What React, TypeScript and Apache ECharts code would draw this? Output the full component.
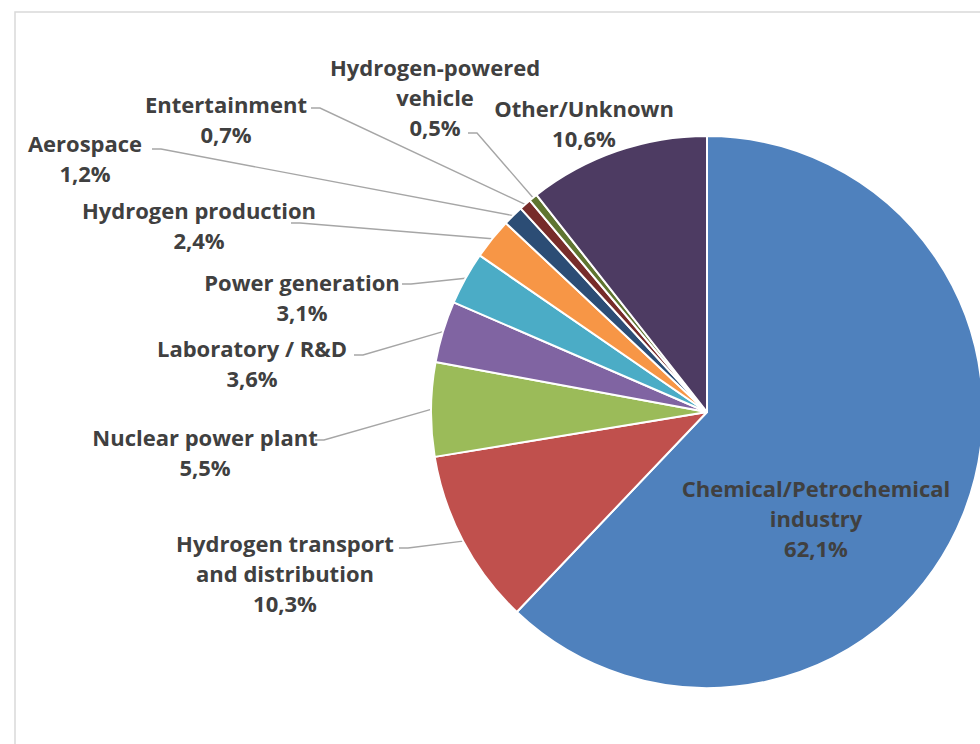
import React, { useEffect, useRef } from "react";
import * as echarts from "echarts";

const categories: string[] = [
  "Chemical/Petrochemical\nindustry",
  "Hydrogen transport\nand distribution",
  "Nuclear power plant",
  "Laboratory / R&D",
  "Power generation",
  "Hydrogen production",
  "Aerospace",
  "Entertainment",
  "Hydrogen-powered\nvehicle",
  "Other/Unknown",
];

const shares: number[] = [62.1, 10.3, 5.5, 3.6, 3.1, 2.4, 1.2, 0.7, 0.5, 10.6];

const colors: string[] = [
  "#4f81bd",
  "#c0504d",
  "#9bbb59",
  "#8064a2",
  "#4bacc6",
  "#f79646",
  "#2c4d75",
  "#772c2a",
  "#5f7530",
  "#4d3b62",
];

// label block centres (layout, not data)
const labelCenters: [number, number][] = [
  [816, 518],
  [285, 573],
  [205, 452],
  [252, 363],
  [302, 297],
  [199, 225],
  [85, 158],
  [226, 119],
  [435, 97],
  [584, 123],
];

// where each leader line meets its label, relative to the label centre
const lineEnds: ([number, number] | null)[] = [
  null,
  [114, -25],
  [110, -12],
  [102, -8],
  [100, -13],
  [92, -2],
  [67, -9],
  [85, -11],
  [33, 36],
  null,
];

export default function App() {
  const ref = useRef<HTMLDivElement>(null);
  useEffect(() => {
    if (!ref.current) return;
    const chart = echarts.init(ref.current, undefined, { renderer: "svg" });
    const data = categories.map((name, i) => ({
      name,
      value: shares[i],
      itemStyle: { color: colors[i] },
      labelLine: { show: lineEnds[i] != null },
    }));
    chart.setOption({
      animation: false,
      backgroundColor: "#ffffff",
      graphic: [
        {
          type: "rect",
          shape: { x: 15, y: 12, width: 1000, height: 800 },
          style: { fill: "none", stroke: "#d9d9d9", lineWidth: 1.5 },
          silent: true,
        },
      ],
      series: [
        {
          type: "pie",
          center: [707, 412],
          radius: 276,
          startAngle: 90,
          clockwise: true,
          avoidLabelOverlap: false,
          itemStyle: { borderColor: "#ffffff", borderWidth: 2 },
          label: {
            show: true,
            position: "outside",
            fontFamily: "'Open Sans', sans-serif",
            fontWeight: "bold",
            fontSize: 22,
            lineHeight: 30,
            color: "#404040",
            align: "center",
            formatter: (p: any) =>
              p.name + "\n" + String(p.value.toFixed(1)).replace(".", ",") + "%",
          },
          labelLine: {
            show: true,
            length: 10,
            length2: 10,
            lineStyle: { color: "#a6a6a6", width: 1.4 },
          },
          labelLayout: (params: any) => {
            const i = params.dataIndex;
            const c = labelCenters[i];
            const out: any = {
              x: c[0],
              y: c[1],
              align: "center",
              verticalAlign: "middle",
              hideOverlap: false,
              moveOverlap: null,
            };
            const e = lineEnds[i];
            const pts = params.labelLinePoints;
            if (e && pts && pts.length) {
              const ex = c[0] + e[0];
              const ey = c[1] + e[1];
              out.labelLinePoints = [
                [pts[0][0], pts[0][1]],
                [ex + 9, ey],
                [ex, ey],
              ];
            }
            return out;
          },
          data,
        },
      ],
    });
    return () => chart.dispose();
  }, []);
  return (
    <div
      ref={ref}
      style={{ position: "fixed", left: 0, top: 0, width: 980, height: 744 }}
    />
  );
}
